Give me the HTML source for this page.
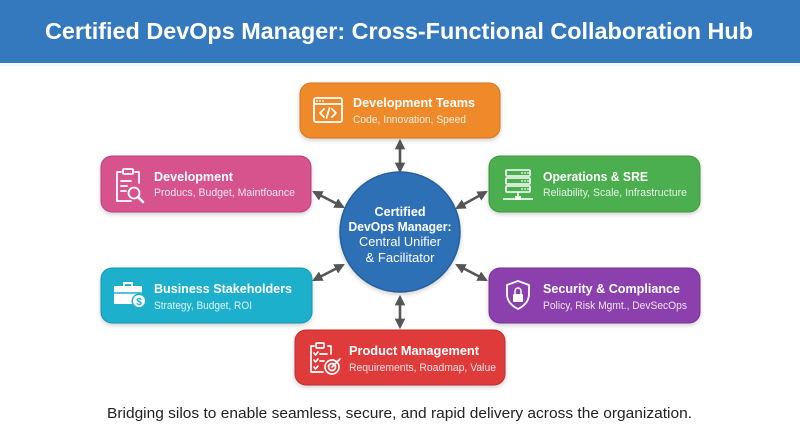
<!DOCTYPE html>
<html>
<head>
<meta charset="utf-8">
<style>
  html,body{margin:0;padding:0;background:#fff;}
  svg{display:block;}
  text{font-family:"Liberation Sans", Arial, sans-serif;}
</style>
</head>
<body>
<svg width="800" height="436" viewBox="0 0 800 436" xmlns="http://www.w3.org/2000/svg">
  <defs>
    <filter id="sh" x="-10%" y="-20%" width="120%" height="150%">
      <feDropShadow dx="0" dy="2" stdDeviation="2" flood-color="#000" flood-opacity="0.18"/>
    </filter>
    <marker id="ah" viewBox="0 0 10 10" refX="8" refY="5" markerWidth="4" markerHeight="4" orient="auto-start-reverse">
      <path d="M0,0 L10,5 L0,10 z" fill="#555"/>
    </marker>
  </defs>

  <!-- Header -->
  <rect x="0" y="0" width="800" height="63" fill="#3478bd"/>
  <rect x="0" y="63" width="800" height="3" fill="#e8eef5" opacity="0.6"/>
  <text x="45" y="39" font-size="23" font-weight="bold" fill="#fff" textLength="708" lengthAdjust="spacingAndGlyphs">Certified DevOps Manager: Cross-Functional Collaboration Hub</text>

  <!-- Arrows -->
  <g stroke="#555" stroke-width="2.6" fill="none">
    <line x1="400" y1="141" x2="400" y2="171" marker-start="url(#ah)" marker-end="url(#ah)"/>
    <line x1="400" y1="297" x2="400" y2="327" marker-start="url(#ah)" marker-end="url(#ah)"/>
    <line x1="314" y1="192" x2="343" y2="207" marker-start="url(#ah)" marker-end="url(#ah)"/>
    <line x1="486" y1="192" x2="457" y2="208" marker-start="url(#ah)" marker-end="url(#ah)"/>
    <line x1="314" y1="280" x2="343" y2="265" marker-start="url(#ah)" marker-end="url(#ah)"/>
    <line x1="486" y1="280" x2="457" y2="265" marker-start="url(#ah)" marker-end="url(#ah)"/>
  </g>

  <!-- Center circle -->
  <circle cx="400" cy="232" r="60" fill="#2f6fb6" stroke="#275f9e" stroke-width="1.5" filter="url(#sh)"/>
  <g fill="#fff" text-anchor="middle">
    <text x="400" y="216" font-size="13" font-weight="bold" textLength="51" lengthAdjust="spacingAndGlyphs">Certified</text>
    <text x="400" y="231" font-size="13" font-weight="bold" textLength="103" lengthAdjust="spacingAndGlyphs">DevOps Manager:</text>
    <text x="400" y="246" font-size="13" textLength="82" lengthAdjust="spacingAndGlyphs">Central Unifier</text>
    <text x="400" y="262" font-size="13" textLength="69" lengthAdjust="spacingAndGlyphs">&amp; Facilitator</text>
  </g>

  <!-- Orange: Development Teams -->
  <rect x="300" y="83" width="200" height="55" rx="11" fill="#ef8a2c" stroke="#d8751e" stroke-width="1" filter="url(#sh)"/>
  <g stroke="#fff" stroke-width="1.8" fill="none" stroke-linecap="round" stroke-linejoin="round">
    <rect x="314" y="98" width="28" height="24" rx="2"/>
    <line x1="314" y1="104" x2="342" y2="104"/>
    <polyline points="324,109 320,113 324,117"/>
    <polyline points="332,109 336,113 332,117"/>
    <line x1="329.5" y1="108" x2="326.5" y2="118"/>
  </g>
  <g fill="#fff"><circle cx="317" cy="101" r="0.9"/><circle cx="320" cy="101" r="0.9"/><circle cx="323" cy="101" r="0.9"/></g>
  <text x="353" y="107" font-size="13" font-weight="bold" fill="#fff" textLength="122" lengthAdjust="spacingAndGlyphs">Development Teams</text>
  <text x="353" y="123" font-size="11" fill="#fff" fill-opacity="0.85" textLength="113" lengthAdjust="spacingAndGlyphs">Code, Innovation, Speed</text>

  <!-- Pink: Development -->
  <rect x="101" y="156" width="210" height="56" rx="11" fill="#d6538e" stroke="#b8427a" stroke-width="1" filter="url(#sh)"/>
  <g stroke="#fff" stroke-width="1.8" fill="none" stroke-linecap="round" stroke-linejoin="round">
    <path d="M121,172 h-4 v29 h14"/>
    <path d="M135,172 h4 v11"/>
    <rect x="123" y="169" width="10" height="5" rx="1"/>
    <line x1="121" y1="181" x2="131" y2="181"/>
    <line x1="121" y1="186" x2="127" y2="186"/>
    <line x1="121" y1="191" x2="126" y2="191"/>
    <circle cx="134" cy="193" r="5.5"/>
    <line x1="138" y1="197" x2="143" y2="202" stroke-width="2.5"/>
  </g>
  <text x="154" y="181" font-size="13" font-weight="bold" fill="#fff" textLength="79" lengthAdjust="spacingAndGlyphs">Development</text>
  <text x="154" y="196" font-size="11" fill="#fff" fill-opacity="0.85" textLength="141" lengthAdjust="spacingAndGlyphs">Producs, Budget, Maintfoance</text>

  <!-- Green: Operations & SRE -->
  <rect x="489" y="156" width="211" height="56" rx="11" fill="#4caf50" stroke="#3f9743" stroke-width="1" filter="url(#sh)"/>
  <g stroke="#fff" stroke-width="1.6" fill="none">
    <rect x="506" y="170" width="24" height="6" rx="1"/>
    <rect x="506" y="178" width="24" height="6" rx="1"/>
    <rect x="506" y="186" width="24" height="6" rx="1"/>
    <line x1="518" y1="192" x2="518" y2="198"/>
    <line x1="503" y1="199" x2="515" y2="199"/>
    <line x1="521" y1="199" x2="533" y2="199"/>
  </g>
  <g fill="#fff">
    <rect x="515" y="196" width="6" height="4"/>
    <circle cx="522" cy="173" r="0.9"/><circle cx="525" cy="173" r="0.9"/><circle cx="528" cy="173" r="0.9"/>
    <circle cx="522" cy="181" r="0.9"/><circle cx="525" cy="181" r="0.9"/><circle cx="528" cy="181" r="0.9"/>
    <circle cx="522" cy="189" r="0.9"/><circle cx="525" cy="189" r="0.9"/><circle cx="528" cy="189" r="0.9"/>
  </g>
  <text x="543" y="181" font-size="13" font-weight="bold" fill="#fff" textLength="105" lengthAdjust="spacingAndGlyphs">Operations &amp; SRE</text>
  <text x="543" y="196" font-size="11" fill="#fff" fill-opacity="0.85" textLength="144" lengthAdjust="spacingAndGlyphs">Reliability, Scale, Infrastructure</text>

  <!-- Cyan: Business Stakeholders -->
  <rect x="101" y="268" width="211" height="55" rx="11" fill="#1fb0cc" stroke="#1896ae" stroke-width="1" filter="url(#sh)"/>
  <g fill="#fff">
    <path d="M114,286 h28 v18 h-28 z"/>
    <path d="M123,286 v-4 h10 v4 h-2 v-2 h-6 v2 z"/>
  </g>
  <line x1="114" y1="293" x2="142" y2="293" stroke="#1fb0cc" stroke-width="1.4"/>
  <circle cx="139" cy="301" r="7.5" fill="#1fb0cc"/>
  <circle cx="139" cy="301" r="6" fill="#fff"/>
  <text x="139" y="305" font-size="10" font-weight="bold" fill="#1fb0cc" text-anchor="middle">$</text>
  <text x="154" y="293" font-size="13" font-weight="bold" fill="#fff" textLength="138" lengthAdjust="spacingAndGlyphs">Business Stakeholders</text>
  <text x="154" y="309" font-size="11" fill="#fff" fill-opacity="0.85" textLength="98" lengthAdjust="spacingAndGlyphs">Strategy, Budget, ROI</text>

  <!-- Purple: Security & Compliance -->
  <rect x="489" y="268" width="211" height="55" rx="11" fill="#8c3fae" stroke="#763396" stroke-width="1" filter="url(#sh)"/>
  <path d="M518,281 L507,285 V294 C507,301 512,306 518,309 C524,306 529,301 529,294 V285 Z" fill="none" stroke="#fff" stroke-width="1.8" stroke-linejoin="round"/>
  <rect x="513" y="294" width="10" height="8" rx="1" fill="#fff"/>
  <path d="M515,294 v-3 a3,3 0 0 1 6,0 v3" fill="none" stroke="#fff" stroke-width="1.5"/>
  <text x="543" y="293" font-size="13" font-weight="bold" fill="#fff" textLength="137" lengthAdjust="spacingAndGlyphs">Security &amp; Compliance</text>
  <text x="543" y="309" font-size="11" fill="#fff" fill-opacity="0.85" textLength="144" lengthAdjust="spacingAndGlyphs">Policy, Risk Mgmt., DevSecOps</text>

  <!-- Red: Product Management -->
  <rect x="295" y="330" width="210" height="55" rx="11" fill="#e03a3a" stroke="#c22f2f" stroke-width="1" filter="url(#sh)"/>
  <g stroke="#fff" stroke-width="1.7" fill="none" stroke-linecap="round" stroke-linejoin="round">
    <path d="M314,346 h-3 v26 h12"/>
    <path d="M328,346 h3 v8"/>
    <rect x="316" y="343" width="8" height="5" rx="1"/>
    <polyline points="314,353 315.5,355 318,352"/>
    <line x1="320" y1="354" x2="327" y2="354"/>
    <polyline points="314,360 315.5,362 318,359"/>
    <line x1="320" y1="361" x2="324" y2="361"/>
    <polyline points="314,367 315.5,369 318,366"/>
    <circle cx="332" cy="367" r="7"/>
    <circle cx="332" cy="367" r="3.5"/>
    <line x1="332" y1="367" x2="340" y2="359"/>
  </g>
  <text x="349" y="355" font-size="13" font-weight="bold" fill="#fff" textLength="130" lengthAdjust="spacingAndGlyphs">Product Management</text>
  <text x="349" y="371" font-size="11" fill="#fff" fill-opacity="0.85" textLength="147" lengthAdjust="spacingAndGlyphs">Requirements, Roadmap, Value</text>

  <!-- Footer -->
  <text x="107" y="418" font-size="15" fill="#222" textLength="585" lengthAdjust="spacingAndGlyphs">Bridging silos to enable seamless, secure, and rapid delivery across the organization.</text>
</svg>
</body>
</html>
